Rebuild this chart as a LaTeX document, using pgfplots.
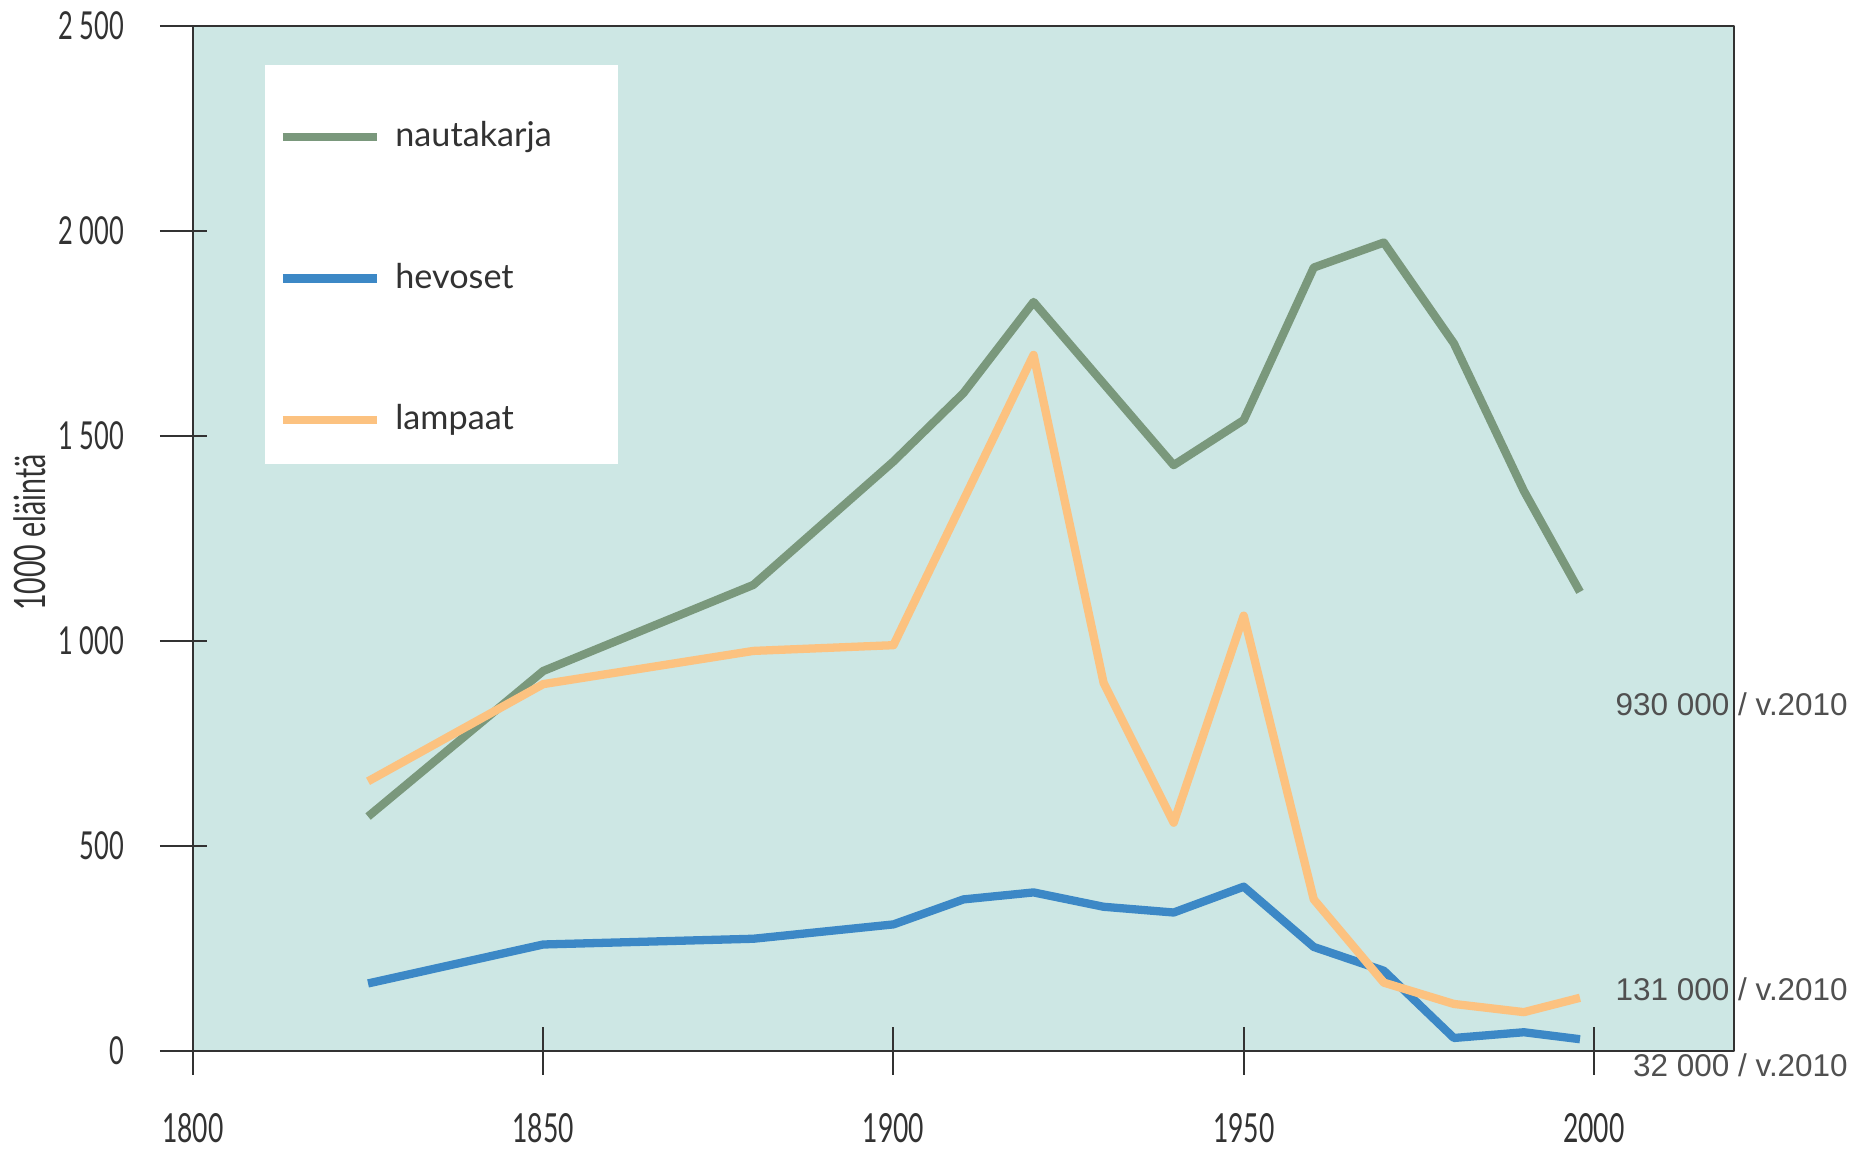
\documentclass[border=0pt]{standalone}
\usepackage{fontspec}
\usepackage{pgfplots}
\pgfplotsset{compat=1.18}
\setmainfont{Lato}
\newfontfamily\condfont[FakeStretch=0.66]{Lato}
\newfontfamily\arialfont{Liberation Sans}
\definecolor{bgteal}{RGB}{205,231,228}
\definecolor{cgreen}{RGB}{122,152,124}
\definecolor{cblue}{RGB}{60,136,198}
\definecolor{corange}{RGB}{252,194,128}
\definecolor{axgray}{RGB}{50,50,50}
\definecolor{anngray}{RGB}{80,80,80}

\begin{document}
\begin{tikzpicture}
\begin{axis}[
  scale only axis, width=390.6bp, height=259.8bp,
  xmin=1800, xmax=2020, ymin=0, ymax=2500,
  axis background/.style={fill=bgteal},
  axis line style={axgray, line width=0.6bp},
  tick style={axgray, line width=0.5bp},
  tick pos=left, tick align=center,
  major tick length=12bp,
  ytick style={xshift=-2.4bp},
  xtick={1800,1850,1900,1950,2000},
  xticklabels={1800,1850,1900,1950,2000},
  ytick={0,500,1000,1500,2000,2500},
  yticklabels={0,500,1\,000,1\,500,2\,000,2\,500},
  ticklabel style={font=\condfont\fontsize{9.8}{11}\selectfont, text=axgray},
  xticklabel style={yshift=-6.3bp, font=\condfont\fontsize{10.2}{12}\selectfont},
  yticklabel style={xshift=-8bp},
  ylabel={1000 eläintä},
  every axis y label/.style={at={(axis description cs:0,0.5)}, xshift=-41.4bp, yshift=1.5bp, rotate=90, anchor=center, font=\condfont\fontsize{11}{13}\selectfont, text=axgray},
  clip=false,
  line join=round,
  legend style={at={(rel axis cs:0.0469,0.9619)}, anchor=north west, fill=none, draw=none,
    inner xsep=3.2bp, inner ysep=12.1bp, row sep=24bp, column sep=1.5bp,
    font=\fontsize{8.7}{10.4}\selectfont, text=axgray,
    cells={anchor=west}},
  legend image code/.code={\draw[#1] (0bp,0bp) -- (24bp,0bp);},
]
\fill[white] (rel axis cs:0.0469,0.5727) rectangle (rel axis cs:0.2757,0.9619);

\addplot[cgreen, line width=2.1bp] coordinates {
(1825,572) (1850,927) (1880,1137) (1900,1438) (1910,1605) (1920,1827)
(1940,1429) (1950,1539) (1960,1911) (1970,1972) (1980,1726) (1990,1366) (1998,1120)};
\addlegendentry{nautakarja}

\addplot[cblue, line width=2.1bp] coordinates {
(1825,165) (1850,260) (1880,274) (1900,309) (1910,370) (1920,387) (1930,352)
(1940,338) (1950,401) (1960,254) (1970,196) (1980,32) (1990,46) (1998,29)};
\addlegendentry{hevoset}

\addplot[corange, line width=2.1bp] coordinates {
(1825,658) (1850,895) (1880,976) (1900,990) (1920,1698) (1930,898)
(1940,557) (1950,1062) (1960,370) (1970,167) (1980,115) (1990,95) (1998,130)};
\addlegendentry{lampaat}

\node[anchor=east, font=\arialfont\fontsize{8}{9.6}\selectfont, text=anngray] at (axis cs:2038.2,846) {930 000 / v.2010};
\node[anchor=east, font=\arialfont\fontsize{8}{9.6}\selectfont, text=anngray] at (axis cs:2038.2,150) {131 000 / v.2010};
\node[anchor=east, font=\arialfont\fontsize{8}{9.6}\selectfont, text=anngray] at (axis cs:2038.2,-35) {32 000 / v.2010};
\end{axis}
\pgfresetboundingbox
\path (-48.9bp,-25.5bp) rectangle (421.5bp,266.4bp);
\end{tikzpicture}
\end{document}
